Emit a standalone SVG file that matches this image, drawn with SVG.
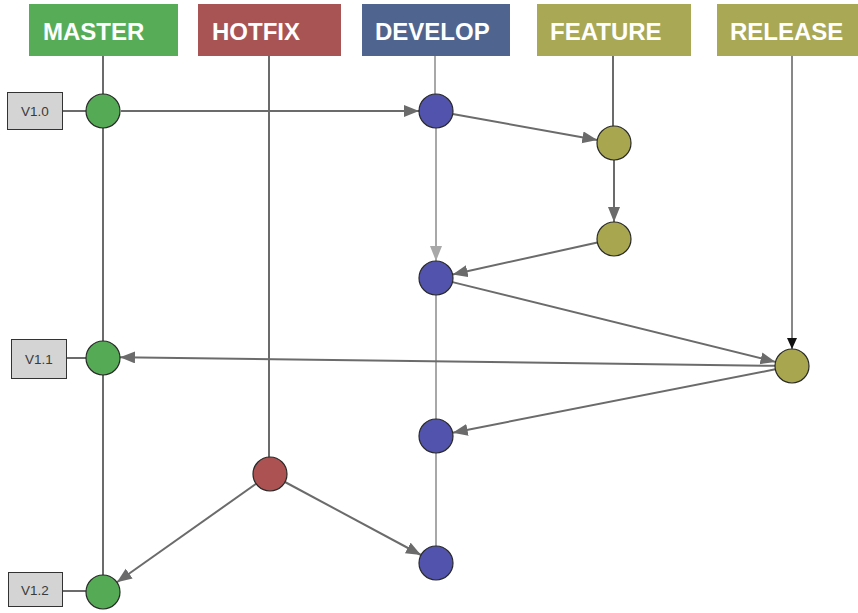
<svg xmlns="http://www.w3.org/2000/svg" width="858" height="613" viewBox="0 0 858 613">
  <style>
    .hdr-text { font-family: "Liberation Sans", Arial, sans-serif; font-weight: bold; font-size: 24px; fill: #ffffff; }
    .tag rect { fill: #d4d4d4; stroke: #333333; stroke-width: 1; }
    .tag text { font-family: "Liberation Sans", Arial, sans-serif; font-size: 13.5px; fill: #3a3a3a; text-anchor: middle; }
    .node circle { stroke: #2a2a2a; stroke-width: 1.2; }
    .master circle { fill: #55ab55; }
    .develop circle { fill: #5253ad; }
    .feature circle { fill: #a8a74f; }
    .hotfix circle { fill: #ad5252; }
    .edge { stroke: #6b6b6b; stroke-width: 2; fill: none; }
    .edge-light { stroke: #a8a8a8; stroke-width: 2; fill: none; }
    .edge-dark { stroke: #111111; stroke-width: 1; fill: none; }
  </style>
  <defs>
    <marker id="arrow" markerUnits="userSpaceOnUse" markerWidth="16" markerHeight="14" refX="15" refY="6" orient="auto">
      <path d="M0,0 L15,6 L0,12 Z" fill="#6b6b6b"/>
    </marker>
    <marker id="arrow-light" markerUnits="userSpaceOnUse" markerWidth="16" markerHeight="14" refX="15" refY="6" orient="auto">
      <path d="M0,0 L15,6 L0,12 Z" fill="#a8a8a8"/>
    </marker>
    <marker id="arrow-dark" markerUnits="userSpaceOnUse" markerWidth="12" markerHeight="12" refX="11" refY="5" orient="auto">
      <path d="M0,0 L11,5 L0,10 Z" fill="#111111"/>
    </marker>
  </defs>

  <rect width="858" height="613" fill="#ffffff"/>

  <!-- branch headers -->
  <g id="hdr-master"><rect x="29" y="4" width="149" height="52" fill="#57ad57"/><text class="hdr-text" x="43" y="40">MASTER</text></g>
  <g id="hdr-hotfix"><rect x="198" y="4" width="143" height="52" fill="#a85454"/><text class="hdr-text" x="212" y="40">HOTFIX</text></g>
  <g id="hdr-develop"><rect x="362" y="4" width="148" height="52" fill="#4f648f"/><text class="hdr-text" x="375" y="40">DEVELOP</text></g>
  <g id="hdr-feature"><rect x="537" y="4" width="154" height="52" fill="#a9a855"/><text class="hdr-text" x="550" y="40">FEATURE</text></g>
  <g id="hdr-release"><rect x="717" y="4" width="141" height="52" fill="#a9a855"/><text class="hdr-text" x="730" y="40">RELEASE</text></g>

  <!-- connectors -->
  <g id="connectors">
    <!-- branch lifelines -->
    <line class="edge" x1="103" y1="56" x2="103" y2="592"/>
    <line class="edge" x1="269" y1="56" x2="269" y2="474"/>
    <line class="edge-light" x1="435" y1="56" x2="435" y2="111"/>
    <line class="edge" x1="613" y1="56" x2="613" y2="143"/>
    <line class="edge-dark" x1="792" y1="56" x2="792" y2="349" marker-end="url(#arrow-dark)"/>
    <line class="edge-light" x1="436" y1="295" x2="436" y2="419"/>
    <line class="edge-light" x1="436" y1="453" x2="436" y2="546"/>
    <!-- tag links -->
    <line class="edge" x1="63" y1="111" x2="86" y2="111"/>
    <line class="edge" x1="67" y1="358" x2="86" y2="358"/>
    <line class="edge" x1="63" y1="591" x2="86" y2="591"/>
    <!-- merges and branches -->
    <line class="edge" x1="121" y1="111" x2="419" y2="111" marker-end="url(#arrow)"/>
    <line class="edge" x1="452.7" y1="114" x2="597.3" y2="140" marker-end="url(#arrow)"/>
    <line class="edge" x1="614" y1="160" x2="614" y2="222" marker-end="url(#arrow)"/>
    <line class="edge" x1="597.4" y1="242.6" x2="452.6" y2="274.4" marker-end="url(#arrow)"/>
    <line class="edge-light" x1="436" y1="128" x2="436" y2="261" marker-end="url(#arrow-light)"/>
    <line class="edge" x1="452.5" y1="282.1" x2="775.5" y2="361.9" marker-end="url(#arrow)"/>
    <line class="edge" x1="775" y1="365.8" x2="120" y2="357.2" marker-end="url(#arrow)"/>
    <line class="edge" x1="775.3" y1="369.3" x2="452.7" y2="432.7" marker-end="url(#arrow)"/>
    <line class="edge" x1="285" y1="482" x2="421" y2="555" marker-end="url(#arrow)"/>
    <line class="edge" x1="256.1" y1="483.8" x2="116.9" y2="582.2" marker-end="url(#arrow)"/>
  </g>

  <!-- version tags -->
  <g id="tag-v10" class="tag"><rect x="7.5" y="92.5" width="55" height="37"/><text x="35" y="116">V1.0</text></g>
  <g id="tag-v11" class="tag"><rect x="11.5" y="339.5" width="55" height="39"/><text x="39" y="364">V1.1</text></g>
  <g id="tag-v12" class="tag"><rect x="8.5" y="572.5" width="54" height="34"/><text x="35" y="594.5">V1.2</text></g>

  <!-- commits -->
  <g id="m1" class="node master"><circle cx="103" cy="111" r="17"/></g>
  <g id="m2" class="node master"><circle cx="103" cy="358" r="17"/></g>
  <g id="m3" class="node master"><circle cx="103" cy="592" r="17"/></g>
  <g id="d1" class="node develop"><circle cx="436" cy="111" r="17"/></g>
  <g id="d2" class="node develop"><circle cx="436" cy="278" r="17"/></g>
  <g id="d3" class="node develop"><circle cx="436" cy="436" r="17"/></g>
  <g id="d4" class="node develop"><circle cx="436" cy="563" r="17"/></g>
  <g id="f1" class="node feature"><circle cx="614" cy="143" r="17"/></g>
  <g id="f2" class="node feature"><circle cx="614" cy="239" r="17"/></g>
  <g id="r1" class="node feature"><circle cx="792" cy="366" r="17"/></g>
  <g id="h1" class="node hotfix"><circle cx="270" cy="474" r="17"/></g>
</svg>
